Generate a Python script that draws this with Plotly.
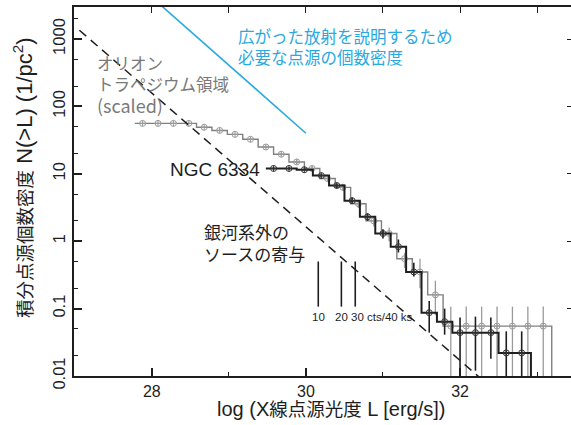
import numpy as np
import plotly.graph_objects as go

# ---------------- data ----------------
# Orion Trapezium (scaled), gray histogram
orion_logL = [27.88, 28.08, 28.28, 28.48, 28.68, 28.88, 29.08, 29.28, 29.48, 29.68,
              29.88, 30.08, 30.28, 30.48, 30.68, 30.88, 31.08, 31.28, 31.48, 31.68,
              31.88, 32.08, 32.28, 32.48, 32.68, 32.88, 33.08]
orion_N = [56, 56, 56, 56, 49, 44, 38.5, 32.5, 25, 19.5,
           15, 12, 8.5, 6.3, 3.6, 2.0, 1.3, 0.55, 0.35, 0.16,
           0.055, 0.055, 0.055, 0.055, 0.055, 0.055, 0.055]
orion_err_up = [1, 1, 1, 1, 1, 1, 1, 1, 1, 1,
                1, 1, 0.8, 0.7, 0.5, 0.35, 0.3, 0.12, 0.2, 0.1,
                0.052, 0.052, 0.052, 0.052, 0.052, 0.052, 0.052]
orion_err_dn = [1, 1, 1, 1, 1, 1, 1, 1, 1, 1,
                1, 1, 0.8, 0.7, 0.5, 0.35, 0.3, 0.15, 0.15, 0.08,
                0.0549, 0.0549, 0.0549, 0.0549, 0.0549, 0.0549, 0.0549]

# NGC 6334, black histogram
ngc_logL = [29.58, 29.78, 29.98, 30.20, 30.40, 30.60, 30.80, 31.00, 31.20, 31.40,
            31.60, 31.80, 32.00, 32.20, 32.40, 32.60, 32.80]
ngc_N = [12, 12, 11.5, 9.4, 6.7, 4.0, 2.3, 1.3, 0.83, 0.35,
         0.087, 0.064, 0.044, 0.044, 0.044, 0.022, 0.022]
ngc_err_up = [0.5, 0.5, 0.5, 0.5, 0.5, 0.4, 0.3, 0.2, 0.23, 0.13,
              0.043, 0.036, 0.030, 0.032, 0.030, 0.024, 0.024]
ngc_err_dn = [0.5, 0.5, 0.5, 0.5, 0.5, 0.4, 0.3, 0.2, 0.15, 0.05,
              0.043, 0.023, 0.0439, 0.032, 0.026, 0.0219, 0.0219]

# extragalactic contribution (dashed)
extragal_logL = [27.06, 32.25]
extragal_N = [1350, 0.0096]

# point sources needed for diffuse emission (cyan)
diffuse_logL = [28.10, 30.00]
diffuse_N = [3300, 40]

# detection limits
limit_logL = [30.16, 30.46, 30.64]
limit_labels = ["10", "20", "30 cts/40 ks"]
limit_N_top = 0.5
limit_N_bottom = 0.107

y_tick_vals = [0.01, 0.1, 1, 10, 100, 1000]
y_tick_text = ["0.01", "0.1", "1", "10", "100", "1000"]
x_tick_vals = [28, 30, 32]

XRANGE = [26.99, 33.44]
YRANGE = [-2, 3.475]
FLOOR = 1e-4

LATIN = "Liberation Sans, Arial, Noto Sans CJK JP, sans-serif"
CJK = "Noto Sans CJK JP, Liberation Sans, sans-serif"

GRAY_LINE = "#808080"
GRAY_MARK = "#9a9a9a"
BLACK = "#1e1e1e"
CYAN = "#2aa9df"


def step_outline(xs, ys, half_start, half_end):
    xs = list(xs)
    ys = list(ys)
    lx = [xs[0] - half_start] + xs + [xs[-1] + half_end, xs[-1] + half_end]
    ly = [ys[0]] + ys + [ys[-1], FLOOR]
    return lx, ly


def cjk(s, size):
    return "<span style='font-family:Noto Sans CJK JP;font-size:%spx'>%s</span>" % (size, s)


fig = go.Figure()

# gray Orion outline
ox, oy = step_outline(orion_logL, orion_N, 0.10, 0.11)
fig.add_trace(go.Scatter(x=ox, y=oy, mode="lines", line=dict(color=GRAY_LINE, width=1.4, shape="hvh"),
                         hoverinfo="skip", showlegend=False))
fig.add_trace(go.Scatter(x=orion_logL, y=orion_N, mode="markers",
                         marker=dict(symbol="circle-cross-open", size=6, color=GRAY_MARK, line=dict(width=1)),
                         error_y=dict(type="data", array=orion_err_up, arrayminus=orion_err_dn,
                                      color=GRAY_MARK, thickness=1.3, width=0),
                         showlegend=False))

# black NGC 6334 outline
nx, ny = step_outline(ngc_logL, ngc_N, 0.10, 0.12)
fig.add_trace(go.Scatter(x=nx, y=ny, mode="lines", line=dict(color=BLACK, width=2, shape="hvh"),
                         hoverinfo="skip", showlegend=False))
fig.add_trace(go.Scatter(x=ngc_logL, y=ngc_N, mode="markers",
                         marker=dict(symbol="circle-cross-open", size=6, color="#333333", line=dict(width=1)),
                         error_y=dict(type="data", array=ngc_err_up, arrayminus=ngc_err_dn,
                                      color=BLACK, thickness=1.6, width=0),
                         showlegend=False))

# dashed extragalactic line
fig.add_trace(go.Scatter(x=extragal_logL, y=extragal_N, mode="lines",
                         line=dict(color=BLACK, width=1.5, dash="9px,6px"), showlegend=False))
# cyan line
fig.add_trace(go.Scatter(x=diffuse_logL, y=diffuse_N, mode="lines",
                         line=dict(color=CYAN, width=1.6), showlegend=False))

# detection limit lines
for lx in limit_logL:
    fig.add_trace(go.Scatter(x=[lx, lx], y=[limit_N_bottom, limit_N_top], mode="lines",
                             line=dict(color=BLACK, width=1.6), showlegend=False))

# right-side ticks (y2) and top ticks (x2)
fig.add_trace(go.Scatter(x=[XRANGE[0]], y=[1e-6], mode="markers", marker=dict(opacity=0),
                         xaxis="x2", yaxis="y2", showlegend=False, hoverinfo="skip"))

annotations = []
annotations.append(dict(x=29.09, y=2.896, xref="x", yref="y", xanchor="left", yanchor="middle",
                        align="left", showarrow=False,
                        text="広がった放射を説明するため<br>必要な点源の個数密度",
                        font=dict(family=CJK, size=16.5, color=CYAN)))
annotations.append(dict(x=27.26, y=2.318, xref="x", yref="y", xanchor="left", yanchor="middle",
                        align="left", showarrow=False,
                        text="オリオン<br>トラペジウム領域<br><span style='font-size:18px'>(scaled)</span>",
                        font=dict(family=CJK, size=16.5, color="#7a7a7a")))
annotations.append(dict(x=29.43, y=1.057, xref="x", yref="y", xanchor="right", yanchor="middle",
                        showarrow=False, text="NGC 6334",
                        font=dict(family=LATIN, size=19, color=BLACK)))
annotations.append(dict(x=28.65, y=-0.026, xref="x", yref="y", xanchor="left", yanchor="middle",
                        align="left", showarrow=False,
                        text="銀河系外の<br>ソースの寄与",
                        font=dict(family=CJK, size=17, color=BLACK)))
annotations.append(dict(x=limit_logL[0], y=-1.124, xref="x", yref="y", xanchor="center", yanchor="middle",
                        showarrow=False, text=limit_labels[0], font=dict(family=LATIN, size=11.5, color=BLACK)))
annotations.append(dict(x=limit_logL[1], y=-1.124, xref="x", yref="y", xanchor="center", yanchor="middle",
                        showarrow=False, text=limit_labels[1], font=dict(family=LATIN, size=11.5, color=BLACK)))
annotations.append(dict(x=limit_logL[2], y=-1.124, xref="x", yref="y", xanchor="left", yanchor="middle",
                        xshift=-6, showarrow=False, text=limit_labels[2],
                        font=dict(family=LATIN, size=11.5, color=BLACK)))
# axis titles
annotations.append(dict(x=0.519, y=-0.0867, xref="paper", yref="paper", xanchor="center", yanchor="middle",
                        showarrow=False, text="log (X" + cjk("線点源光度", 18.5) + " L [erg/s])",
                        font=dict(family=LATIN, size=20, color=BLACK)))
annotations.append(dict(x=-0.1026, y=0.5366, xref="paper", yref="paper", xanchor="center", yanchor="middle",
                        showarrow=False, textangle=-90,
                        text=cjk("積分点源個数密度", 18.5) + " N(>L) (1/pc<sup>2</sup>)",
                        font=dict(family=LATIN, size=22, color=BLACK)))

fig.update_layout(
    width=571, height=425,
    margin=dict(l=74, r=0, t=7, b=49),
    paper_bgcolor="white", plot_bgcolor="white",
    showlegend=False,
    annotations=annotations,
    xaxis=dict(range=XRANGE, tickvals=x_tick_vals, ticks="inside", ticklen=8, tickwidth=1.5,
               tickcolor=BLACK, showline=True, linecolor=BLACK, linewidth=2, showgrid=False,
               zeroline=False, tickfont=dict(family=LATIN, size=16, color=BLACK),
               minor=dict(dtick=1, ticks="inside", ticklen=4, tickwidth=1.3, tickcolor=BLACK, showgrid=False)),
    xaxis2=dict(range=XRANGE, overlaying="x", side="top", dtick=1, tick0=28, ticks="inside", ticklen=6,
                tickwidth=1.3, tickcolor=BLACK, showline=True, linecolor=BLACK, linewidth=1.5,
                showticklabels=False, showgrid=False, zeroline=False),
    yaxis=dict(type="log", range=YRANGE, tickvals=y_tick_vals, ticktext=y_tick_text, tickangle=-90,
               ticks="inside", ticklen=8, tickwidth=1.5, tickcolor=BLACK, showline=True,
               linecolor=BLACK, linewidth=2, showgrid=False, zeroline=False,
               tickfont=dict(family=LATIN, size=16.5, color=BLACK),
               minor=dict(ticks="inside", ticklen=4, tickwidth=1, tickcolor=BLACK, showgrid=False)),
    yaxis2=dict(type="log", range=YRANGE, overlaying="y", side="right", tickvals=y_tick_vals,
                ticks="inside", ticklen=4, tickwidth=1.3, tickcolor=BLACK, showline=False,
                showticklabels=False, showgrid=False, zeroline=False),
)

fig.write_html("out.html", config={"displayModeBar": False},
               post_script="document.body.style.margin='0';")
